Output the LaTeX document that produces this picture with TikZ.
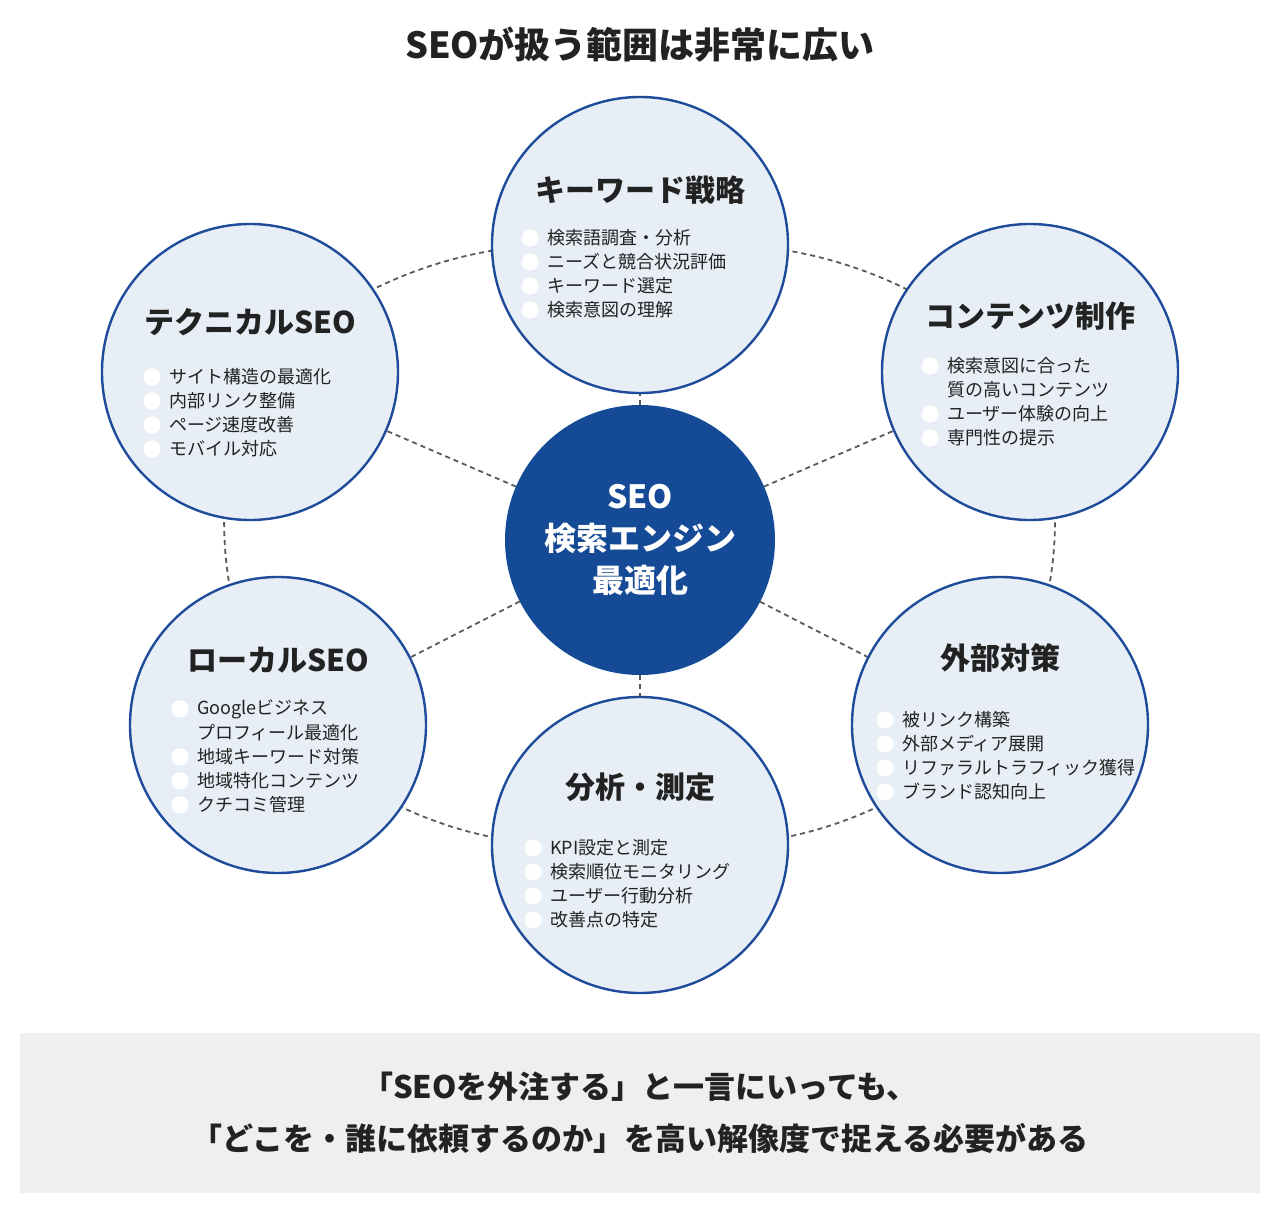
\documentclass[tikz,border=0pt]{standalone}
\usepackage{fontspec}
\setmainfont{Noto Sans CJK JP}
\usetikzlibrary{backgrounds}
\definecolor{navy}{HTML}{154A96}
\definecolor{ring}{HTML}{1E4C9A}
\definecolor{pale}{HTML}{E8EEF5}
\definecolor{txt}{HTML}{222222}
\definecolor{boxbg}{HTML}{EFEFEF}
\tikzset{
 outer/.style={circle,draw=ring,line width=2.4pt,fill=pale,minimum size=296pt,inner sep=0pt},
 ttl/.style={font=\fontsize{30}{34}\selectfont\bfseries,text=txt},
 itm/.style={font=\fontsize{18}{22}\selectfont,text=txt,anchor=west,inner sep=0pt},
 dline/.style={dashed,dash pattern=on 5pt off 4pt,line width=1.8pt,draw=black!65},
}
\newcommand\items[4]{% x, y0, name, list
 \foreach \t [count=\i] in {#4}{
  \node[itm] (#3\i) at (#1+17,#2+24*\i-24) {\t};
 }}
\begin{document}
\begin{tikzpicture}[x=1pt,y=-1pt]
\useasboundingbox (0,0) rectangle (1280,1214);
\node[font=\fontsize{36}{40}\selectfont\bfseries,text=txt] (title) at (640,45) {SEOが扱う範囲は非常に広い};
\node[circle,fill=navy,minimum size=270pt] (c) at (640,540) {};
\node[outer] (top) at (640,245) {};
\node[outer] (tech) at (250,372) {};
\node[outer] (cont) at (1030,372) {};
\node[outer] (loc) at (278,725) {};
\node[outer] (ext) at (1000,725) {};
\node[outer] (ana) at (640,845) {};
\begin{scope}[on background layer]
 \foreach \n in {top,tech,cont,loc,ext,ana} \draw[dline] (c.center) -- (\n.center);
 \draw[dline] (tech.center) to[bend left=22] (top.center);
 \draw[dline] (top.center) to[bend left=22] (cont.center);
 \draw[dline] (cont.center) to[bend left=22] (ext.center);
 \draw[dline] (ext.center) to[bend left=22] (ana.center);
 \draw[dline] (ana.center) to[bend left=22] (loc.center);
 \draw[dline] (loc.center) to[bend left=22] (tech.center);
\end{scope}
\node[font=\fontsize{32}{42}\selectfont\bfseries,text=white,align=center] (ct) at (640,540) {SEO\\検索エンジン\\最適化};
\foreach \x/\y/\k in {530/238/4,152/377/4,930/366/1,930/414/2,180/709/1,180/757/3,885/720/4,533/848/4}{
 \foreach \j in {1,...,\k} \fill[white] (\x,\y+24*\j-24) circle (8.5);
}
\node[ttl] (t1) at (640,190) {キーワード戦略};
\items{530}{238}{a}{検索語調査・分析,ニーズと競合状況評価,キーワード選定,検索意図の理解}
\node[ttl] (t2) at (250,322) {テクニカルSEO};
\items{152}{377}{b}{サイト構造の最適化,内部リンク整備,ページ速度改善,モバイル対応}
\node[ttl] (t3) at (1030,316) {コンテンツ制作};
\items{930}{366}{d}{検索意図に合った,質の高いコンテンツ,ユーザー体験の向上,専門性の提示}
\node[ttl] (t4) at (278,660) {ローカルSEO};
\items{180}{709}{e}{Googleビジネス,プロフィール最適化,地域キーワード対策,地域特化コンテンツ,クチコミ管理}
\node[ttl] (t5) at (1000,658) {外部対策};
\items{885}{720}{f}{被リンク構築,外部メディア展開,リファラルトラフィック獲得,ブランド認知向上}
\node[ttl] (t6) at (640,787) {分析・測定};
\items{533}{848}{g}{KPI設定と測定,検索順位モニタリング,ユーザー行動分析,改善点の特定}
\node[fill=boxbg,minimum width=1240pt,minimum height=160pt,inner sep=0pt] (box) at (640,1113) {};
\node[font=\fontsize{31}{52}\selectfont\bfseries,text=txt,align=center] (msg) at (640,1113) {「SEOを外注する」と一言にいっても、\\「どこを・誰に依頼するのか」を高い解像度で捉える必要がある};
\end{tikzpicture}
\end{document}
